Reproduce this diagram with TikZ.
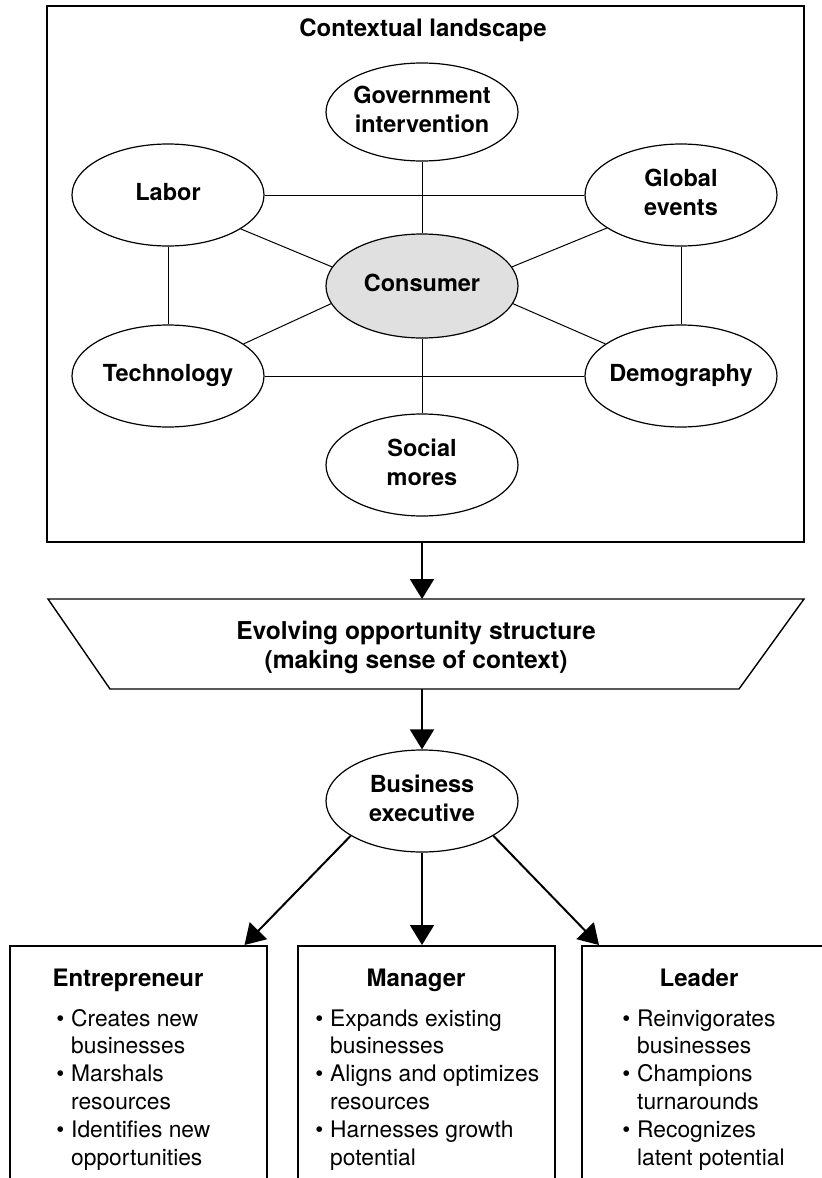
\documentclass[tikz,border=0pt]{standalone}
\usepackage{fontspec}
\setmainfont{TeX Gyre Heros}
\usetikzlibrary{arrows.meta,calc,shapes.geometric}
\newcommand{\ctext}[1]{\makebox[0pt]{\begin{tabular}{@{}c@{}}#1\end{tabular}}}
\newcommand{\bl}{\textbullet}
\begin{document}
\begin{tikzpicture}[x=0.5pt,y=-0.5pt,
  oval/.style={ellipse, draw, line width=0.6pt, minimum width=96pt, minimum height=51pt, inner sep=0pt,
    font=\fontsize{11.75}{14.5}\selectfont\bfseries},
  link/.style={line width=0.5pt},
  flow/.style={line width=1pt, -{Triangle[length=10pt,width=12pt]}},
  rolebox/.style={draw, line width=0.75pt, anchor=north west, minimum width=128.5pt, minimum height=130pt, inner sep=0pt},
  head/.style={font=\fontsize{12}{14.5}\selectfont\bfseries, inner sep=0pt, anchor=base},
  items/.style={font=\fontsize{11.4}{13.9}\selectfont, inner sep=0pt, anchor=base west},
]
\useasboundingbox (0,0) rectangle (822,1178);
\fill[white] (0,0) rectangle (822,1178);
\clip (0,0) rectangle (822,1178);

% contextual landscape
\node[draw, line width=0.9pt, minimum width=378.5pt, minimum height=268pt, inner sep=0pt] (land) at (425.5,274) {};
\node[head] (title) at (423,36) {Contextual landscape};

\node[oval, minimum height=49pt] (gov) at (422,112) {\ctext{Government\\intervention}};
\node[oval] (labor) at (168,195) {\ctext{Labor}};
\node[oval] (global) at (681,195) {\ctext{Global\\events}};
\node[oval, fill=black!12, minimum height=52pt] (cons) at (422,286) {\ctext{Consumer}};
\node[oval] (tech) at (168,376) {\ctext{Technology}};
\node[oval] (demog) at (681,376) {\ctext{Demography}};
\node[oval] (social) at (422,465) {\ctext{Social\\mores}};

\draw[link] (labor) -- (global);
\draw[link] (tech) -- (demog);
\draw[link] (labor) -- (tech);
\draw[link] (global) -- (demog);
\draw[link] (gov) -- (cons);
\draw[link] (cons) -- (social);
\draw[link] (labor.-25) -- (cons.168);
\draw[link] (cons.12) -- (global.204);
\draw[link] (cons.191) -- (tech.23);
\draw[link] (cons.-11) -- (demog.157);

% opportunity structure
\coordinate (trapT) at (422,599);
\coordinate (trapB) at (422,689);
\draw[line width=0.7pt] (48,599) -- (804,599) -- (739,689) -- (110,689) -- cycle;
\node[font=\fontsize{12.3}{14.5}\selectfont\bfseries, align=center, inner sep=0pt] (opp) at (416,648)
  {Evolving opportunity structure\\(making sense of context)};

\draw[flow] (land.south -| trapT) -- (trapT);

% business executive
\node[oval] (bus) at (422,801) {\ctext{Business\\executive}};
\draw[flow] (trapB) -- (bus.north);

% roles
\node[rolebox] (ent) at (9,945) {};
\node[rolebox] (mgr) at (297,945) {};
\node[rolebox, minimum width=135pt] (lead) at (581,945) {};

\draw[flow] (bus.206) -- ($(ent.north east)+(-23,0)$);
\draw[flow] (bus.south) -- (bus.south |- mgr.north);
\draw[flow] (bus.-26) -- ($(lead.north west)+(18,0)$);

\node[head] (enth) at (128,986) {Entrepreneur};
\node[head] (mgrh) at (416,986) {Manager};
\node[head] (leadh) at (699,986) {Leader};

\node[items] (entl) at (56,1026) {\begin{tabular}[t]{@{}l@{\hspace{3.4pt}}l@{}}
\bl & Creates new\\ & businesses\\ \bl & Marshals\\ & resources\\ \bl & Identifies new\\ & opportunities\end{tabular}};
\node[items] (mgrl) at (315,1026) {\begin{tabular}[t]{@{}l@{\hspace{3.4pt}}l@{}}
\bl & Expands existing\\ & businesses\\ \bl & Aligns and optimizes\\ & resources\\ \bl & Harnesses growth\\ & potential\end{tabular}};
\node[items] (leadl) at (622,1026) {\begin{tabular}[t]{@{}l@{\hspace{3.4pt}}l@{}}
\bl & Reinvigorates\\ & businesses\\ \bl & Champions\\ & turnarounds\\ \bl & Recognizes\\ & latent potential\end{tabular}};
\end{tikzpicture}
\end{document}
